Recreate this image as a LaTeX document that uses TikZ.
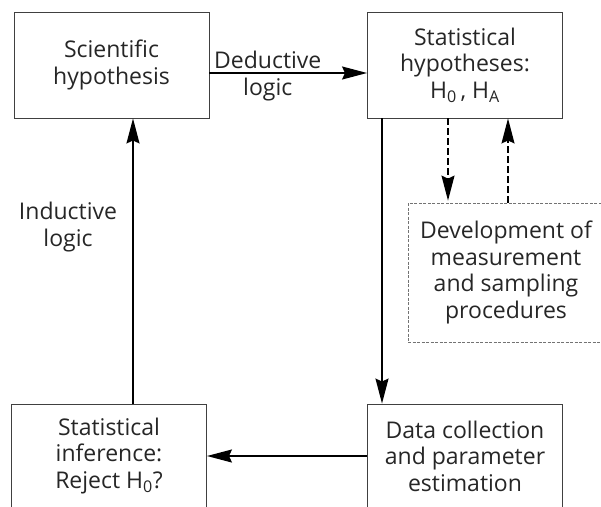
\documentclass[tikz,border=0pt]{standalone}
\usepackage{fontspec}
\setmainfont{Open Sans}
\usetikzlibrary{calc,arrows.meta}
\tikzset{
  stepbox/.style={draw=black!75, line width=0.9pt, align=center,
    minimum width=195pt, minimum height=106pt, inner sep=2pt,
    text=black!85, font=\fontsize{23}{26.5}\selectfont},
  devbox/.style={stepbox, draw=black!55, dash pattern=on 3pt off 1.5pt,
    line width=0.8pt, minimum width=196pt, minimum height=139pt},
  flow/.style={line width=1.7pt,
    -{Stealth[length=25pt,width=13pt,inset=3pt]}},
  dflow/.style={flow, line width=1.3pt, dash pattern=on 6.5pt off 3.5pt},
  lbl/.style={text=black!85, align=center, font=\fontsize{23}{26.5}\selectfont},
}

\begin{document}
\begin{tikzpicture}[x=1pt,y=-1pt]
\useasboundingbox (0,0) rectangle (601,506);
\clip (0,0) rectangle (601,506);
\node[stepbox] (scihyp) at (111.5,65) {Scientific\\hypothesis};
\node[stepbox] (stathyp) at (465,65)
  {Statistical\\hypotheses:\\H\textsubscript{0}\,, H\textsubscript{A}};
\node[devbox] (devel) at (506,272.5)
  {Development of\\measurement\\and sampling\\procedures};
\node[stepbox, minimum height=104pt] (infer) at (109,456)
  {Statistical\\inference:\\Reject H\textsubscript{0}?};
\node[stepbox, minimum height=104pt] (datacol) at (465,456)
  {Data collection\\and parameter\\estimation};
\node[lbl] (induct) at (68,227) {Inductive\\logic};
%% arrows
\draw[flow]
  ([yshift=-8pt]scihyp.east) --
  ([yshift=-8pt]stathyp.west)
  node[pos=0.37, above, lbl, inner sep=3pt] (deduct) {Deductive}
  node[pos=0.37, below, lbl, inner sep=4pt] (deductb) {logic};
\draw[flow]
  (stathyp.south -| 382,0) --
  (datacol.north -| 382,0);
\draw[dflow]
  (stathyp.south -| 448,0) --
  ([yshift=2pt]devel.north -| 448,0);
\draw[dflow]
  (devel.north -| 508,0) --
  (stathyp.south -| 508,0);
\draw[flow]
  (datacol.west) --
  (infer.east);
\draw[flow]
  (infer.north -| 133,0) --
  (scihyp.south -| 133,0);
\end{tikzpicture}
\end{document}
